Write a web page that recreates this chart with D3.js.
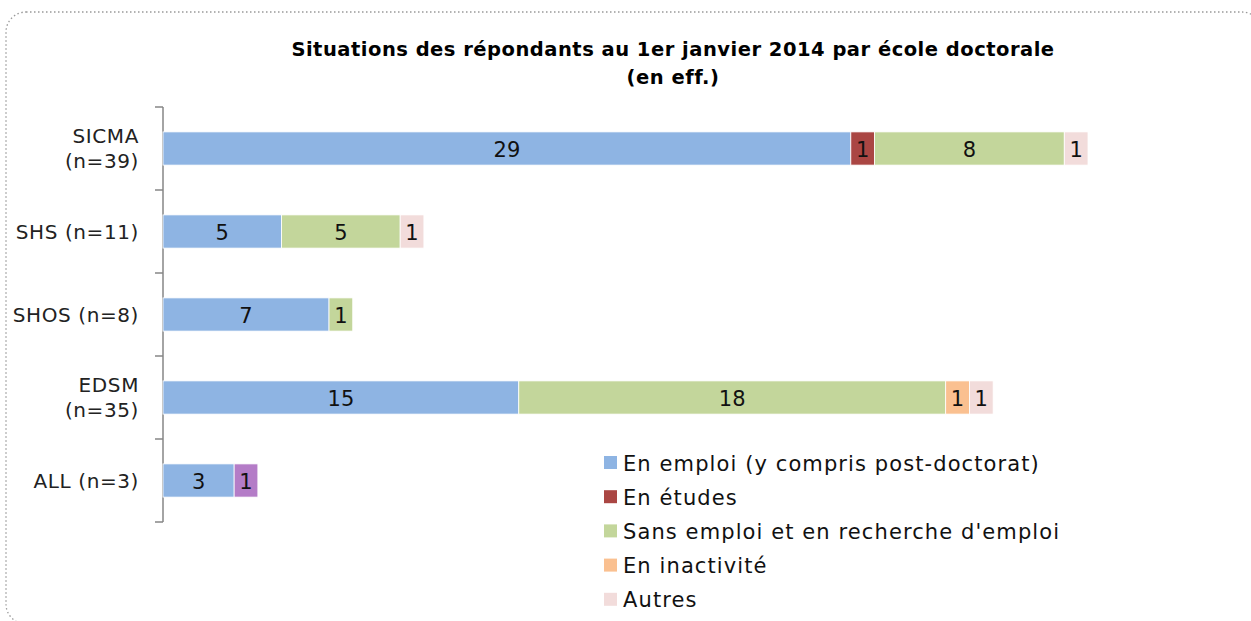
<!DOCTYPE html>
<html><head><meta charset="utf-8">
<script src="https://cdn.jsdelivr.net/npm/d3@7"></script>
<style>body{margin:0;background:#fff}</style>
</head><body>
<script>
const categories = [["SICMA","(n=39)"],["SHS (n=11)"],["SHOS (n=8)"],["EDSM","(n=35)"],["ALL (n=3)"]];
const seriesNames = ["En emploi (y compris post-doctorat)","En études","Sans emploi et en recherche d'emploi","En inactivité","Autres","Non renseigné"];
const emploi    = [29,5,7,15,3];
const etudes    = [1,0,0,0,0];
const sansEmploi= [8,5,1,18,0];
const inactivite= [0,0,0,1,0];
const autres    = [1,1,0,1,0];
const nonRens   = [0,0,0,0,1];
const legendShown = 5;
const colors = ["#8EB4E3","#AA4643","#C3D69B","#FAC090","#F2DCDB","#B47CC7"];

const W=1251,H=621;
const svg=d3.select("body").append("svg").attr("width",W).attr("height",H);
const font="'DejaVu Sans', sans-serif";

svg.append("rect").attr("x",6).attr("y",12).attr("width",1256).attr("height",612).attr("rx",20)
  .attr("fill","none").attr("stroke","#999").attr("stroke-width",1.3).attr("stroke-dasharray","1.5,2.5");

["Situations des répondants au 1er janvier 2014 par école doctorale","(en eff.)"].forEach((t,k)=>{
  svg.append("text").attr("x",673).attr("y",56+k*28).attr("text-anchor","middle")
    .attr("font-family","'DejaVu Sans', sans-serif").attr("font-weight","bold").attr("font-size",19.5)
    .attr("letter-spacing","0.5px").text(t);
});

const all=[emploi,etudes,sansEmploi,inactivite,autres,nonRens];
const data=categories.map((c,i)=>{const o={key:i};all.forEach((s,j)=>o["s"+j]=s[i]);return o;});
const keys=all.map((_,j)=>"s"+j);
const stacked=d3.stack().keys(keys)(data);

const x=d3.scaleLinear().domain([0,39]).range([163,1088]);
const y=d3.scaleBand().domain(d3.range(categories.length)).range([107,522]).paddingInner(0.6).paddingOuter(0.3);

const ax=svg.append("g").attr("transform","translate(163,0)");
ax.append("line").attr("x1",0).attr("x2",0).attr("y1",107).attr("y2",522).attr("stroke","#868686").attr("stroke-width",1.5);
const step=(522-107)/categories.length;
d3.range(categories.length+1).forEach(i=>{
  ax.append("line").attr("x1",-8).attr("x2",0).attr("y1",107+i*step).attr("y2",107+i*step).attr("stroke","#868686").attr("stroke-width",1.5);
});

categories.forEach((lines,i)=>{
  const cy=y(i)+y.bandwidth()/2;
  const t=svg.append("text").attr("text-anchor","end").attr("font-family",font).attr("font-size",20)
    .attr("letter-spacing","0.6px").attr("fill","#222");
  const lh=25;
  lines.forEach((l,k)=>{
    t.append("tspan").attr("x",139).attr("y",cy+(k-(lines.length-1)/2)*lh+7).text(l);
  });
});

const g=svg.append("g");
stacked.forEach((layer,j)=>{
  layer.forEach((d,i)=>{
    if(d[1]-d[0]<=0) return;
    g.append("rect").attr("x",x(d[0])).attr("y",y(i)).attr("width",x(d[1])-x(d[0])).attr("height",y.bandwidth())
      .attr("fill",colors[j]).attr("stroke","#fff").attr("stroke-width",0.8);
    g.append("text").attr("x",(x(d[0])+x(d[1]))/2).attr("y",y(i)+y.bandwidth()/2+8)
      .attr("text-anchor","middle").attr("font-family",font).attr("font-size",21).attr("fill","#111")
      .text(d[1]-d[0]);
  });
});

const lg=svg.append("g");
seriesNames.slice(0,legendShown).forEach((n,j)=>{
  const yy=463+j*34.2;
  lg.append("rect").attr("x",604).attr("y",yy-7).attr("width",13).attr("height",13).attr("fill",colors[j]);
  lg.append("text").attr("x",623).attr("y",yy+7.5).attr("font-family",font).attr("font-size",21)
    .attr("letter-spacing","1.1px").attr("fill","#111").text(n);
});
</script>
</body></html>
